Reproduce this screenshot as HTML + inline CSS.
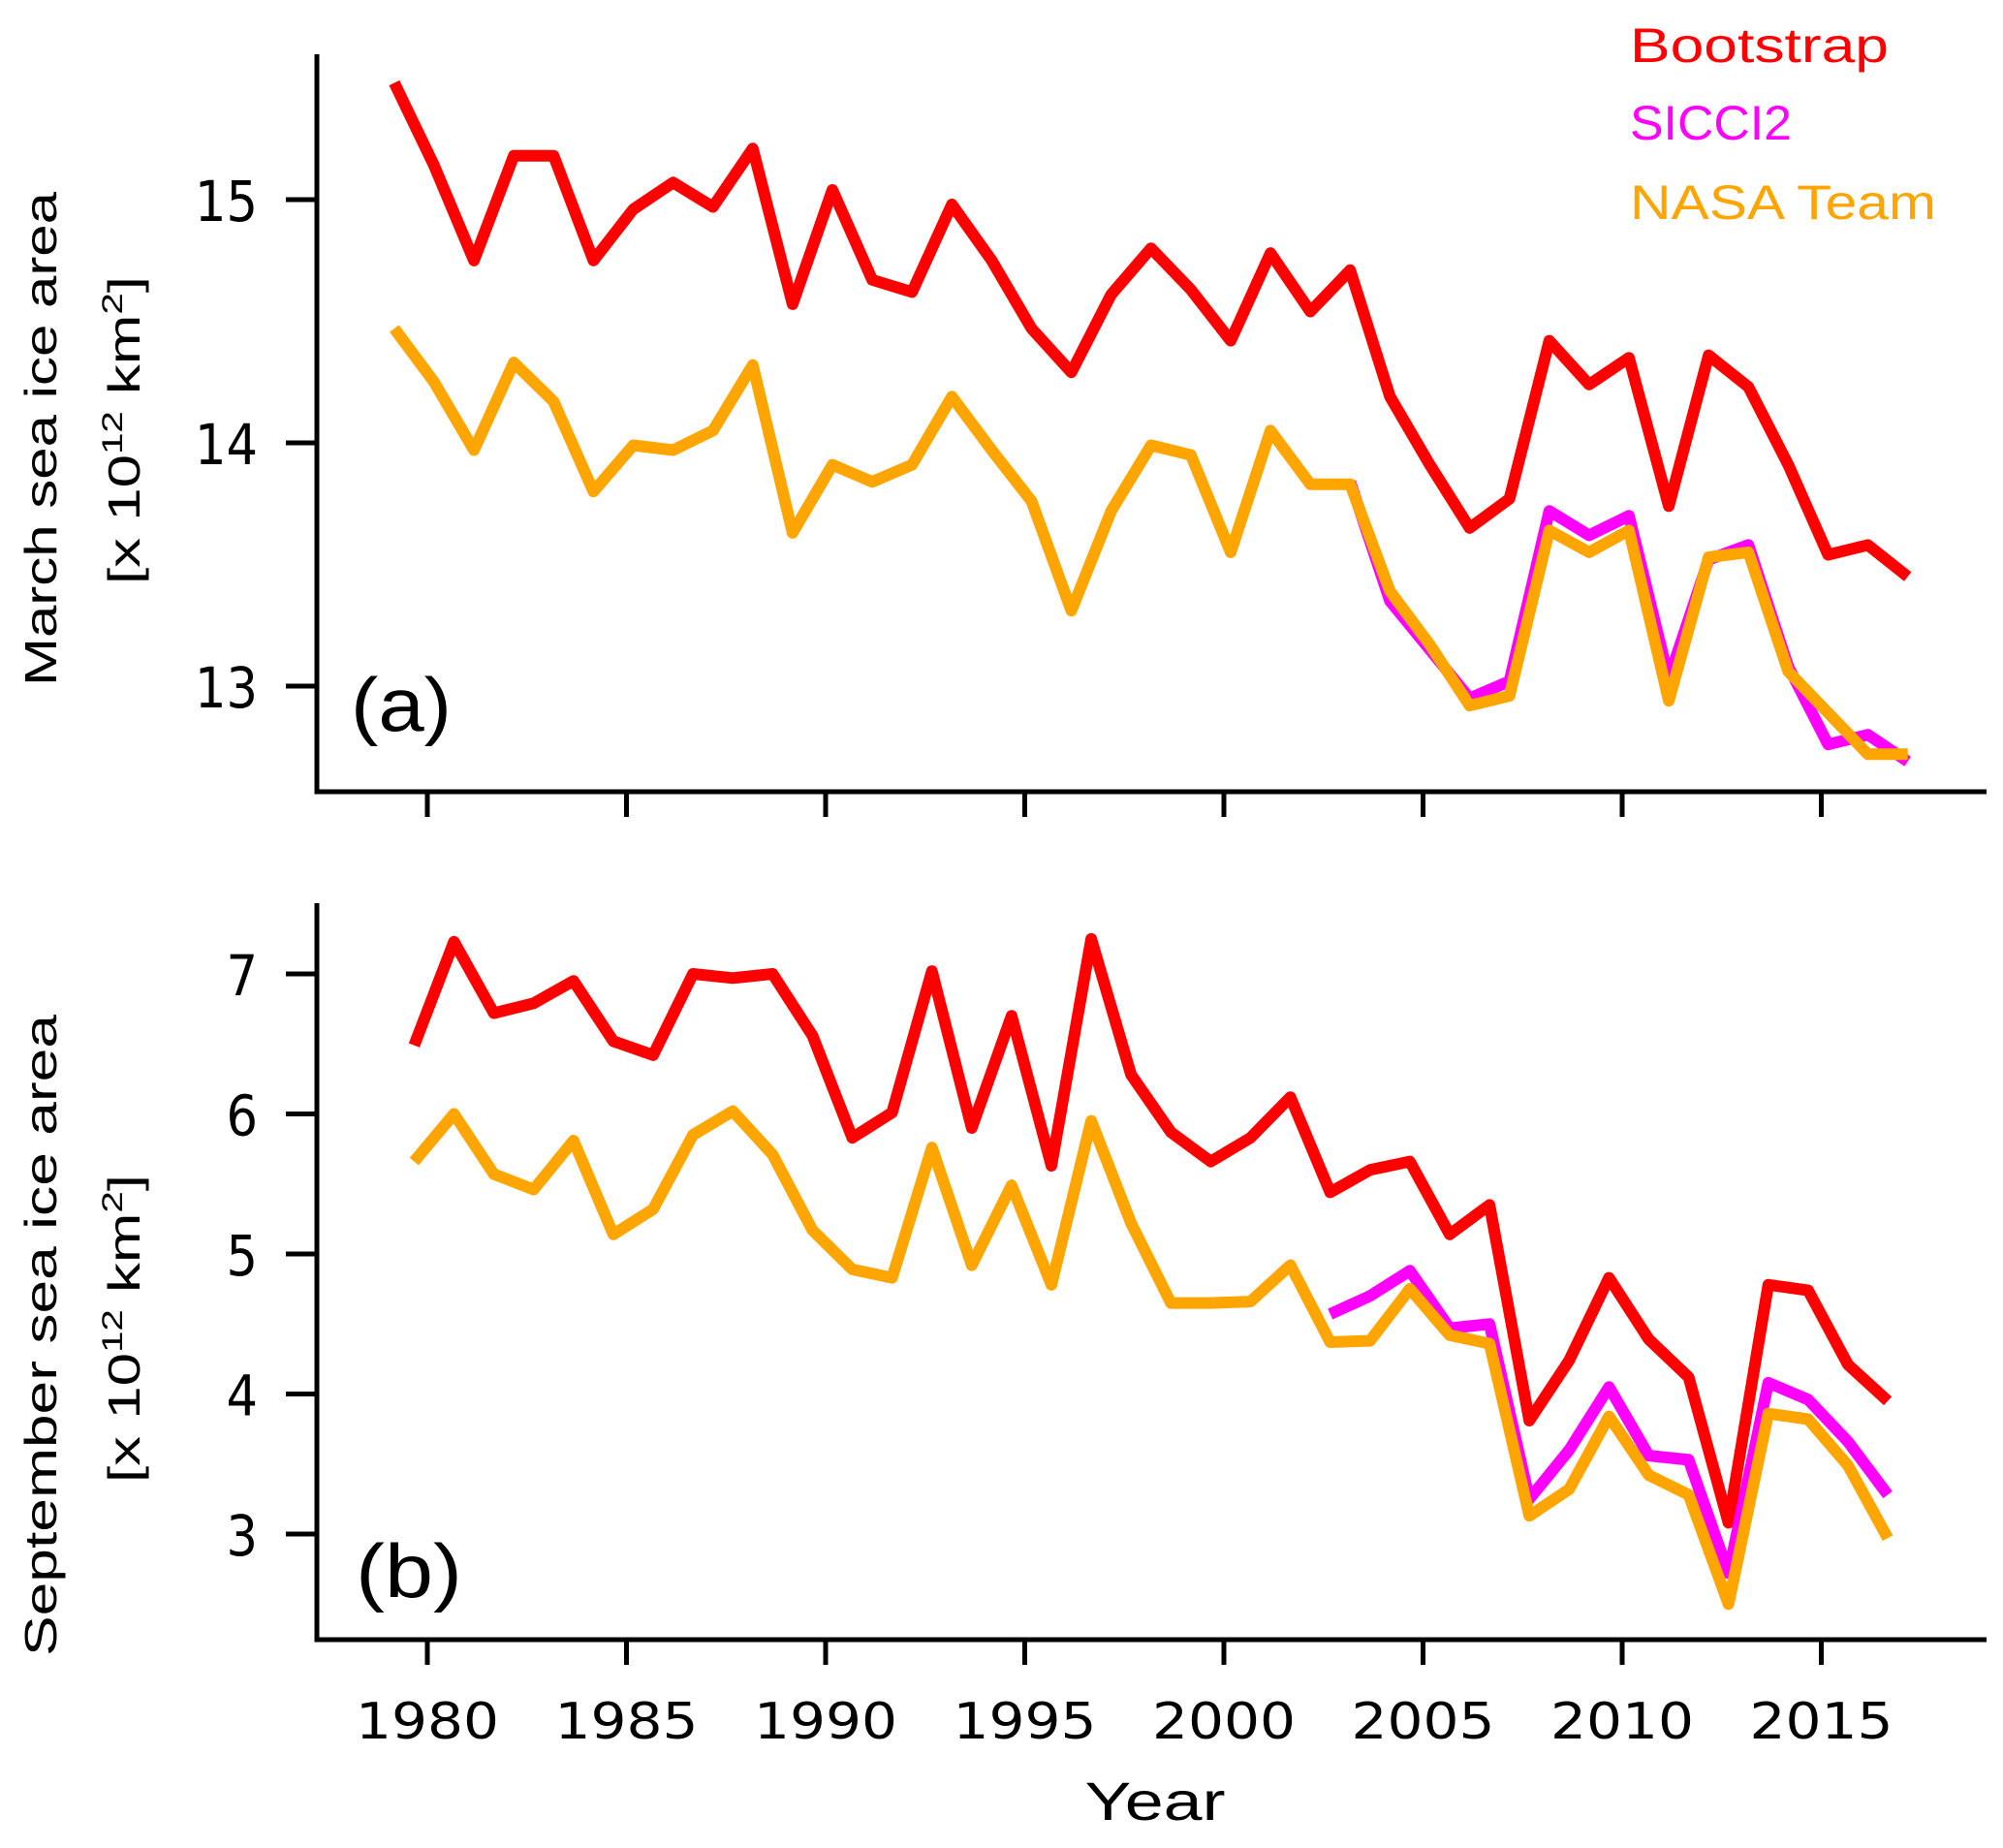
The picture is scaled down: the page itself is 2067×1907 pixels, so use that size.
<!DOCTYPE html>
<html><head><meta charset="utf-8"><style>
html,body{margin:0;padding:0;background:#fff;}
svg{display:block;}
text{font-family:"Liberation Sans","DejaVu Sans",sans-serif;}
.tk{font-family:"DejaVu Sans","Liberation Sans",sans-serif;}
</style></head><body>
<svg id="chart" width="2067" height="1907" viewBox="0 0 2067 1907" xmlns="http://www.w3.org/2000/svg">
<g id="pa"></g>
<g id="pb"></g>
<text x="1192" y="1878" font-size="56" text-anchor="middle" textLength="145" lengthAdjust="spacingAndGlyphs">Year</text>
<text transform="translate(58,453) rotate(-90)" font-size="46" text-anchor="middle" textLength="510" lengthAdjust="spacingAndGlyphs">March sea ice area</text>
<text transform="translate(144,444) rotate(-90)" font-size="46" text-anchor="middle" textLength="318" lengthAdjust="spacingAndGlyphs">[x 10<tspan font-size="30" dy="-18">12</tspan><tspan dy="18"> km</tspan><tspan font-size="30" dy="-18">2</tspan><tspan dy="18">]</tspan></text>
<text transform="translate(58,1378) rotate(-90)" font-size="46" text-anchor="middle" textLength="662" lengthAdjust="spacingAndGlyphs">September sea ice area</text>
<text transform="translate(144,1371) rotate(-90)" font-size="46" text-anchor="middle" textLength="318" lengthAdjust="spacingAndGlyphs">[x 10<tspan font-size="30" dy="-18">12</tspan><tspan dy="18"> km</tspan><tspan font-size="30" dy="-18">2</tspan><tspan dy="18">]</tspan></text>
<text x="362" y="754" font-size="78" textLength="104" lengthAdjust="spacingAndGlyphs">(a)</text>
<text x="367" y="1648" font-size="78" textLength="110" lengthAdjust="spacingAndGlyphs">(b)</text>
<g>
<text x="1682" y="64" font-size="50" fill="#ff0000" textLength="267" lengthAdjust="spacingAndGlyphs">Bootstrap</text>
<text x="1682" y="144" font-size="50" fill="#ff00ff" textLength="167" lengthAdjust="spacingAndGlyphs">SICCI2</text>
<text x="1682" y="226" font-size="50" fill="#ffa500" textLength="316" lengthAdjust="spacingAndGlyphs">NASA Team</text>
</g>
</svg>
<script>
const xTicks = [1980, 1985, 1990, 1995, 2000, 2005, 2010, 2015];
const yTicksA = [13, 14, 15];
const yTicksB = [3, 4, 5, 6, 7];
const yearsA = [1979,1980,1981,1982,1983,1984,1985,1986,1987,1988,1989,1990,1991,1992,1993,1994,1995,1996,1997,1998,1999,2000,2001,2002,2003,2004,2005,2006,2007,2008,2009,2010,2011,2012,2013,2014,2015,2016,2017];
const bootA = [15.48,15.14,14.75,15.18,15.18,14.75,14.96,15.07,14.97,15.21,14.57,15.04,14.67,14.62,14.98,14.75,14.47,14.29,14.61,14.80,14.63,14.42,14.78,14.54,14.71,14.19,13.91,13.65,13.77,14.42,14.24,14.35,13.74,14.36,14.23,13.91,13.54,13.58,13.45];
const nasaA = [14.47,14.25,13.97,14.33,14.17,13.80,13.99,13.97,14.05,14.32,13.63,13.91,13.84,13.91,14.19,13.97,13.76,13.31,13.72,13.99,13.95,13.55,14.05,13.83,13.83,13.39,13.17,12.92,12.96,13.64,13.55,13.64,12.94,13.53,13.55,13.06,12.89,12.72,12.72];
const sicciYearsA = [2003,2004,2005,2006,2007,2008,2009,2010,2011,2012,2013,2014,2015,2016,2017];
const sicciA = [13.84,13.35,13.15,12.95,13.02,13.72,13.62,13.70,13.03,13.52,13.58,13.08,12.76,12.80,12.69];
const yearsB = [1979,1980,1981,1982,1983,1984,1985,1986,1987,1988,1989,1990,1991,1992,1993,1994,1995,1996,1997,1998,1999,2000,2001,2002,2003,2004,2005,2006,2007,2008,2009,2010,2011,2012,2013,2014,2015,2016];
const bootB = [6.49,7.23,6.72,6.79,6.95,6.52,6.42,7.00,6.97,7.00,6.56,5.83,6.01,7.02,5.90,6.70,5.63,7.25,6.28,5.87,5.66,5.83,6.12,5.44,5.60,5.66,5.14,5.35,3.81,4.24,4.83,4.39,4.12,3.08,4.78,4.74,4.21,3.95];
const nasaB = [5.66,6.00,5.57,5.46,5.81,5.14,5.32,5.85,6.02,5.71,5.17,4.89,4.83,5.76,4.92,5.49,4.78,5.95,5.22,4.65,4.65,4.66,4.92,4.37,4.38,4.75,4.42,4.36,3.13,3.32,3.84,3.42,3.28,2.50,3.86,3.82,3.49,2.97];
const sicciYearsB = [2002,2003,2004,2005,2006,2007,2008,2009,2010,2011,2012,2013,2014,2015,2016];
const sicciB = [4.57,4.70,4.88,4.47,4.50,3.25,3.60,4.05,3.56,3.53,2.72,4.08,3.96,3.66,3.28];

const NS = 'http://www.w3.org/2000/svg';
const X0 = 327, X1 = 2050;
function xs(yr){ return 441 + (yr - 1980) * 41.1; }
function mk(tag, attrs, parent){
  const e = document.createElementNS(NS, tag);
  for (const k in attrs) e.setAttribute(k, attrs[k]);
  parent.appendChild(e); return e;
}
function panel(g, key, top, bottom, ys, yTicks, off, series){
  const ax = mk('path', {d:`M${X0},${top}V${bottom}H${X1}`, fill:'none', stroke:'#000', 'stroke-width':5}, g);
  
  
  yTicks.forEach(v => {
    const y = ys(v);
    const t = mk('line', {x1:X0-32, x2:X0, y1:y, y2:y, stroke:'#000', 'stroke-width':5}, g);
    
    
    const s = String(v);
    const l = mk('text', {x:266, y:y+22, 'font-size':58, 'text-anchor':'end', class:'tk', textLength: s.length*32.5, lengthAdjust:'spacingAndGlyphs'}, g);
    l.textContent = s;
    
    
  });
  xTicks.forEach(v => {
    const x = xs(v);
    const t = mk('line', {x1:x, x2:x, y1:bottom, y2:bottom+26, stroke:'#000', 'stroke-width':5}, g);
    
    
  });
  series.forEach(sr => {
    const d = sr.yrs.map((yr,i) => (i?'L':'M') + xs(yr+off).toFixed(1) + ',' + ys(sr.vals[i]).toFixed(1)).join('');
    const p = mk('path', {d:d, fill:'none', stroke:sr.color, 'stroke-width':12, 'stroke-linejoin':'round', 'stroke-linecap':'butt'}, g);
    
    
  });
}
const ysA = v => 206 + (15 - v) * 251;
const ysB = v => 1005 + (7 - v) * 144.5;
panel(document.getElementById('pa'), 'a', 56, 817, ysA, yTicksA, 0.17, [
  {name:'bootstrap', color:'#ff0000', yrs:yearsA, vals:bootA},
  {name:'sicci2', color:'#ff00ff', yrs:sicciYearsA, vals:sicciA},
  {name:'nasa-team', color:'#ffa500', yrs:yearsA, vals:nasaA}
]);
panel(document.getElementById('pb'), 'b', 932, 1692, ysB, yTicksB, 0.67, [
  {name:'bootstrap', color:'#ff0000', yrs:yearsB, vals:bootB},
  {name:'sicci2', color:'#ff00ff', yrs:sicciYearsB, vals:sicciB},
  {name:'nasa-team', color:'#ffa500', yrs:yearsB, vals:nasaB}
]);
const svg = document.getElementById('chart');
xTicks.forEach(v => {
  const l = mk('text', {x:xs(v), y:1794, 'font-size':52, 'text-anchor':'middle', class:'tk', textLength:148, lengthAdjust:'spacingAndGlyphs'}, svg);
  l.textContent = String(v);
  
  
});
</script>
</body></html>
